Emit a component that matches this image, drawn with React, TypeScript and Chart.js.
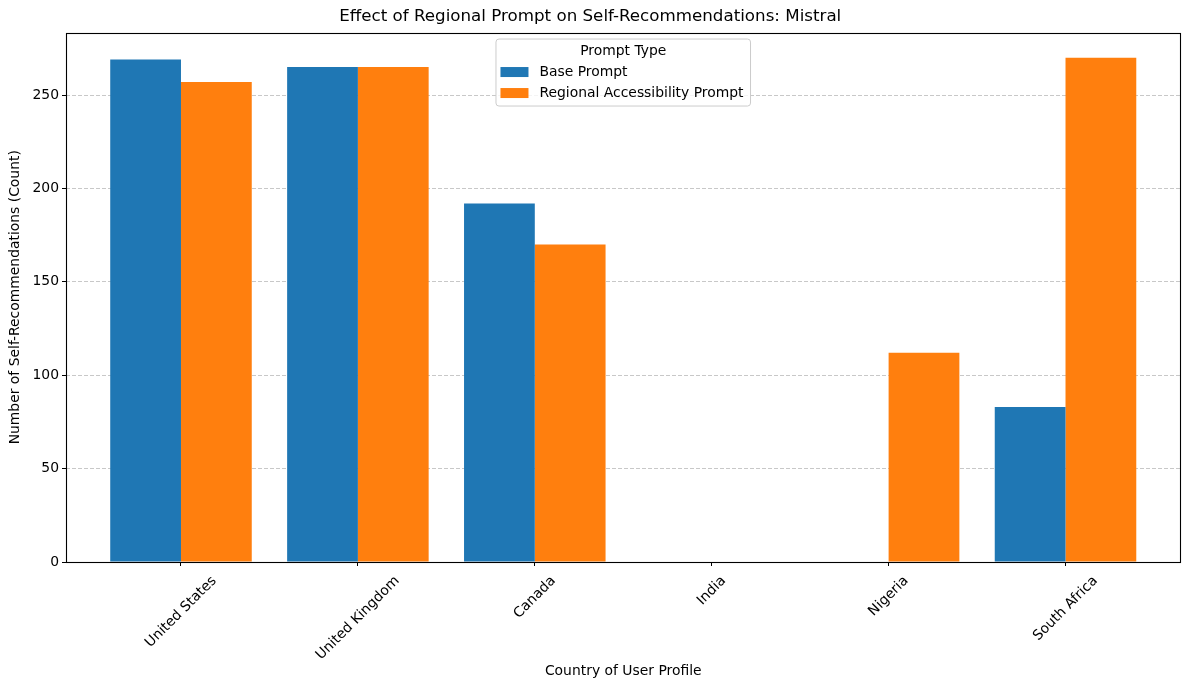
import React, { useEffect, useRef } from "react";
import { Chart, registerables } from "chart.js";

Chart.register(...registerables);

const categories = ["United States", "United Kingdom", "Canada", "India", "Nigeria", "South Africa"];
const basePrompt = [269, 265, 192, 0, 0, 83];
const regionalPrompt = [257, 265, 170, 0, 112, 270];
const seriesLabels = ["Base Prompt", "Regional Accessibility Prompt"];
const seriesColors = ["#1f77b4", "#ff7f0e"];
const yTicks = [0, 50, 100, 150, 200, 250];
const chartTitle = "Effect of Regional Prompt on Self-Recommendations: Mistral";
const xTitle = "Country of User Profile";
const yTitle = "Number of Self-Recommendations (Count)";
const legendTitle = "Prompt Type";

const FONT = "'DejaVu Sans', 'Liberation Sans', sans-serif";
const FS = 13.9;

const overlayPlugin = {
  id: "overlay",
  afterDatasetsDraw(chart: any) {
    const { ctx, chartArea: a } = chart;
    ctx.save();
    ctx.strokeStyle = "#000";
    ctx.lineWidth = 1.1;
    const l = Math.round(a.left) + 0.5;
    const t = Math.round(a.top) + 0.5;
    const r = Math.round(a.right) - 0.5;
    const b = Math.round(a.bottom) + 0.5;
    ctx.strokeRect(l, t, r - l, b - t);
    ctx.restore();
  },
  afterDraw(chart: any) {
    const { ctx, chartArea: a } = chart;
    const xs = chart.scales.x;
    ctx.save();
    ctx.font = `${FS}px ${FONT}`;
    ctx.fillStyle = "#000";
    // rotated category labels, centred on their ticks
    categories.forEach((lab, i) => {
      const px = xs.getPixelForValue(i);
      const w = ctx.measureText(lab).width;
      const h = FS * 1.164;
      const d = (w + h) * Math.SQRT1_2;
      const cy = a.bottom + 11 + d / 2;
      ctx.save();
      ctx.translate(px, cy);
      ctx.rotate(-Math.PI / 4);
      ctx.textAlign = "center";
      ctx.textBaseline = "middle";
      ctx.fillText(lab, 0, 0);
      ctx.restore();
    });
    // legend
    const labels = chart.data.datasets.map((ds: any) => ds.label);
    const colors = chart.data.datasets.map((ds: any) => ds.backgroundColor);
    const textW = Math.max(...labels.map((s: string) => ctx.measureText(s).width), ctx.measureText(legendTitle).width);
    const boxW = 4.5 + 28 + 11 + textW + 7;
    const boxH = 67;
    const cx = (a.left + a.right) / 2;
    const x0 = cx - boxW / 2;
    const y0 = a.top + 6.5;
    ctx.beginPath();
    if ((ctx as any).roundRect) (ctx as any).roundRect(x0, y0, boxW, boxH, 3);
    else ctx.rect(x0, y0, boxW, boxH);
    ctx.fillStyle = "rgba(255,255,255,0.8)";
    ctx.fill();
    ctx.strokeStyle = "#cccccc";
    ctx.lineWidth = 1;
    ctx.stroke();
    ctx.fillStyle = "#000";
    ctx.textAlign = "center";
    ctx.textBaseline = "middle";
    ctx.fillText(legendTitle, x0 + boxW / 2, y0 + 12.5);
    labels.forEach((lab: string, i: number) => {
      const yc = y0 + 33 + i * 21;
      ctx.fillStyle = colors[i];
      ctx.fillRect(x0 + 4.5, yc - 5, 28, 10);
      ctx.fillStyle = "#000";
      ctx.textAlign = "left";
      ctx.fillText(lab, x0 + 43.5, yc);
    });
    ctx.restore();
  },
};

export default function App() {
  const canvasRef = useRef<HTMLCanvasElement | null>(null);

  useEffect(() => {
    document.body.style.margin = "0";
    const canvas = canvasRef.current;
    if (!canvas) return;
    const chart = new Chart(canvas, {
      type: "bar",
      data: {
        datasets: [
          {
            label: seriesLabels[0],
            data: basePrompt.map((v, i) => ({ x: i, y: v })),
            backgroundColor: seriesColors[0],
            borderWidth: 0,
          },
          {
            label: seriesLabels[1],
            data: regionalPrompt.map((v, i) => ({ x: i, y: v })),
            backgroundColor: seriesColors[1],
            borderWidth: 0,
          },
        ],
      },
      options: {
        animation: false,
        responsive: true,
        maintainAspectRatio: false,
        datasets: { bar: { categoryPercentage: 0.8, barPercentage: 1.0 } } as any,
        layout: { padding: { left: 0, right: 8.5, top: 0, bottom: 0 } },
        plugins: {
          legend: { display: false },
          tooltip: { enabled: false },
          title: {
            display: true,
            text: chartTitle,
            color: "#000",
            font: { family: FONT, size: 16.7, weight: "normal" as any },
            padding: { top: 7, bottom: 5.5 },
          },
        },
        scales: {
          x: {
            type: "linear",
            min: -0.65,
            max: 5.65,
            offset: false,
            afterBuildTicks: (axis: any) => {
              axis.ticks = categories.map((_, i) => ({ value: i }));
            },
            afterFit: (scale: any) => {
              scale.height = 128;
            },
            ticks: { display: false },
            grid: {
              offset: false,
              drawOnChartArea: false,
              drawTicks: true,
              tickLength: 4,
              tickColor: "#000",
              tickWidth: 1,
              tickBorderDash: [],
            } as any,
            border: { display: false },
            title: {
              display: true,
              text: xTitle,
              color: "#000",
              font: { family: FONT, size: FS },
              padding: { top: 0, bottom: 10 },
            },
          },
          y: {
            type: "linear",
            min: 0,
            max: 283.5,
            afterBuildTicks: (axis: any) => {
              axis.ticks = yTicks.map((v) => ({ value: v }));
            },
            afterFit: (scale: any) => {
              scale.width = 66;
            },
            ticks: {
              color: "#000",
              font: { family: FONT, size: FS },
              padding: 3,
            },
            grid: {
              color: "rgba(176,176,176,0.7)",
              lineWidth: 1,
              drawTicks: true,
              tickLength: 4,
              tickColor: "#000",
              tickWidth: 1,
              tickBorderDash: [],
            } as any,
            border: { display: false, dash: [4, 2] },
            title: {
              display: true,
              text: yTitle,
              color: "#000",
              font: { family: FONT, size: FS },
              padding: { top: 7, bottom: 0 },
            },
          },
        },
      },
      plugins: [overlayPlugin],
    });
    return () => chart.destroy();
  }, []);

  return (
    <div style={{ width: 1189, height: 690, position: "relative" }}>
      <canvas ref={canvasRef} />
    </div>
  );
}
